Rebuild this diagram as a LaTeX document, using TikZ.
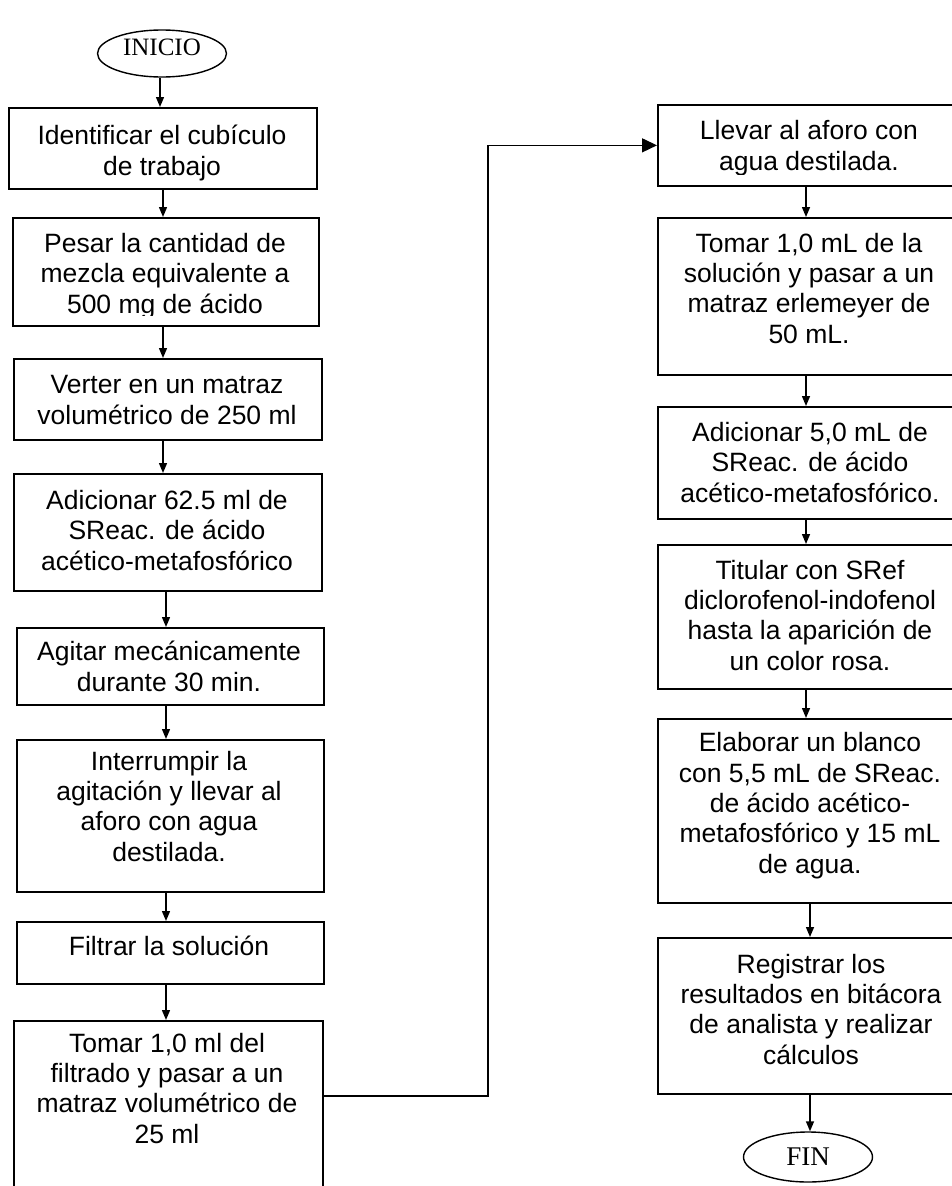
\documentclass[tikz,border=0pt]{standalone}
\usepackage{fontspec}
\setmainfont{Liberation Sans}
\newfontfamily\tnr{Liberation Serif}
\usetikzlibrary{arrows.meta,shapes.geometric}
\begin{document}
\begin{tikzpicture}[x=1pt,y=-1pt,
  box/.style={draw, line width=1.7pt, anchor=north west, inner sep=0pt},
  txt/.style={align=center, anchor=base, font=\fontsize{26.5}{30.3}\selectfont, inner sep=0pt},
  term/.style={draw, ellipse, line width=1.4pt, inner sep=0pt},
  arr/.style={line width=1.4pt, -{Triangle[length=10pt,width=8pt]}},
  bigarr/.style={line width=1.4pt, -{Triangle[length=15pt,width=14pt]}}]
\useasboundingbox (0,0) rectangle (952,1186);
\clip (0,0) rectangle (952,1186);
% terminals
\node[term, minimum width=129pt, minimum height=47pt] (ini) at (162,53.5) {};
\node[anchor=base, inner sep=0pt, font=\tnr\fontsize{25}{28}\selectfont] (inil) at (162,55) {INICIO};
\node[term, minimum width=129pt, minimum height=50pt] (fin) at (808,1157) {};
\node[anchor=base, inner sep=0pt, font=\tnr\fontsize{27}{30}\selectfont] (finl) at (808,1165) {FIN};
% left column
\node[box, minimum width=308pt, minimum height=81pt] (b1) at (8,107) {};
\node[txt] (t1) at (162,175) {Identificar el cubículo\\de trabajo};
\node[box, minimum width=306pt, minimum height=108pt] (b2) at (12,217) {};
\begin{scope}
\clip (12,217) rectangle (318,315.5);
\node[txt] (t2) at (165,313) {Pesar la cantidad de\\mezcla equivalente a\\500 mg de ácido};
\end{scope}
\node[box, minimum width=308pt, minimum height=81pt] (b3) at (13,358) {};
\node[txt] (t3) at (167,424) {Verter en un matraz\\volumétrico de 250 ml};
\node[box, minimum width=308pt, minimum height=117pt] (b4) at (13,473) {};
\node[txt] (t4) at (167,570) {Adicionar 62.5 ml de\\SReac. de ácido\\acético-metafosfórico};
\node[box, minimum width=307pt, minimum height=77pt] (b5) at (16,627) {};
\node[txt] (t5) at (169,691) {Agitar mecánicamente\\durante 30 min.};
\node[box, minimum width=307pt, minimum height=152pt] (b6) at (16,739) {};
\node[txt] (t6) at (169,861) {Interrumpir la\\agitación y llevar al\\aforo con agua\\destilada.};
\node[box, minimum width=307pt, minimum height=62pt] (b7) at (16,921) {};
\node[txt] (t7) at (169,955) {Filtrar la solución};
\node[box, minimum width=309pt, minimum height=200pt] (b8) at (13,1020) {};
\node[txt] (t8) at (167,1143) {Tomar 1,0 ml del\\filtrado y pasar a un\\matraz volumétrico de\\25 ml};
% right column
\node[box, minimum width=302pt, minimum height=81pt] (b9) at (657,104) {};
\begin{scope}
\clip (657,104) rectangle (959,174.5);
\node[txt] (t9) at (809,170) {Llevar al aforo con\\agua destilada.};
\end{scope}
\node[box, minimum width=302pt, minimum height=157pt] (b10) at (657,217) {};
\node[txt] (t10) at (809,343) {Tomar 1,0 mL de la\\solución y pasar a un\\matraz erlemeyer de\\50 mL.};
\node[box, minimum width=302pt, minimum height=112pt] (b11) at (657,406) {};
\node[txt] (t11) at (810,502) {Adicionar 5,0 mL de\\SReac. de ácido\\acético-metafosfórico.};
\node[box, minimum width=302pt, minimum height=144pt] (b12) at (657,544) {};
\node[txt] (t12) at (810,670) {Titular con SRef\\diclorofenol-indofenol\\hasta la aparición de\\un color rosa.};
\node[box, minimum width=302pt, minimum height=184pt] (b13) at (657,718) {};
\node[txt] (t13) at (810,873) {Elaborar un blanco\\con 5,5 mL de SReac.\\de ácido acético-\\metafosfórico y 15 mL\\de agua.};
\node[box, minimum width=302pt, minimum height=156pt] (b14) at (657,937) {};
\node[txt] (t14) at (811,1064) {Registrar los\\resultados en bitácora\\de analista y realizar\\cálculos};
% connectors left
\coordinate (xa) at (160,0);
\coordinate (xb) at (163,0);
\coordinate (xc) at (166,0);
\draw[arr] (ini.south -| xa) -- (b1.north -| xa);
\draw[arr] (b1.south -| xb) -- (b2.north -| xb);
\draw[arr] (b2.south -| xb) -- (b3.north -| xb);
\draw[arr] (b3.south -| xb) -- (b4.north -| xb);
\draw[arr] (b4.south -| xc) -- (b5.north -| xc);
\draw[arr] (b5.south -| xc) -- (b6.north -| xc);
\draw[arr] (b6.south -| xc) -- (b7.north -| xc);
\draw[arr] (b7.south -| xc) -- (b8.north -| xc);
% jump
\coordinate (jc) at (488,1096);
\draw[bigarr] (b8.east |- jc) -- (jc) |- (b9.west);
% connectors right
\coordinate (xd) at (806,0);
\coordinate (xe) at (810,0);
\draw[arr] (b9.south -| xd) -- (b10.north -| xd);
\draw[arr] (b10.south -| xd) -- (b11.north -| xd);
\draw[arr] (b11.south -| xd) -- (b12.north -| xd);
\draw[arr] (b12.south -| xd) -- (b13.north -| xd);
\draw[arr] (b13.south -| xe) -- (b14.north -| xe);
\draw[arr] (b14.south -| xe) -- (fin.north -| xe);
\end{tikzpicture}
\end{document}
